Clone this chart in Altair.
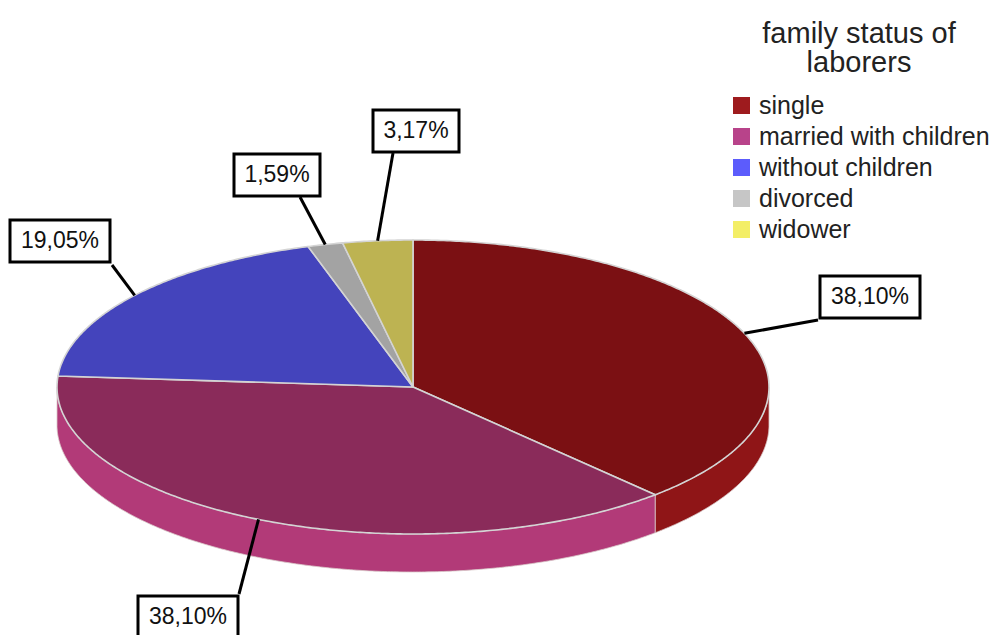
import math
import altair as alt

# ---------------- data ----------------
categories = ["single", "married with children", "without children", "divorced", "widower"]
percents = [38.10, 38.10, 19.05, 1.59, 3.17]
legend_title = ["family status of", "laborers"]

# ---------------- styles ----------------
legend_colors = ["#9E1B1E", "#B8438A", "#5C5CFC", "#C6C6C6", "#F3EE66"]
top_colors = ["#7B1013", "#8A2B5A", "#4444BC", "#A3A3A3", "#BDB352"]
side_colors = ["#8F1517", "#B23A78", "#3C3CA8", "#909090", "#A89E45"]
FONT = "Liberation Sans"

# ---------------- layout (pixels) ----------------
CX, CY = 413, 387          # pie centre
RX, RY, DEPTH = 356, 147, 38
# label box centre and leader end, as pixel offsets from the pie centre
label_center = [(457, -90), (-225, 230), (-353, -146), (-136, -212), (3, -256)]
leader_end = [(405, -67), (-174, 207), (-301, -122), (-113, -190), (-20, -234)]
BOX_H = 42

K = RY / RX
D = DEPTH / RX


def ell(t, dy=0.0):
    return [math.sin(t), -K * math.cos(t) + dy]


def arc_pts(t0, t1, dy=0.0, step=math.radians(0.5)):
    pts = []
    n = max(2, int(math.ceil((t1 - t0) / step)) + 1)
    for i in range(n):
        t = t0 + (t1 - t0) * i / (n - 1)
        pts.append(ell(t, dy))
    return pts


total = sum(percents)
bounds = []
acc = 0.0
for p in percents:
    t0 = acc / total * 2 * math.pi
    acc += p
    t1 = acc / total * 2 * math.pi
    bounds.append((t0, t1))

labels = [f"{p:.2f}%".replace(".", ",") for p in percents]

top_features, side_features, leader_features, box_features, text_rows = [], [], [], [], []
for i, (cat, (t0, t1)) in enumerate(zip(categories, bounds)):
    ring = [[0.0, 0.0]] + arc_pts(t0, t1) + [[0.0, 0.0]]
    top_features.append({"type": "Feature", "properties": {"status": cat},
                         "geometry": {"type": "Polygon", "coordinates": [ring]}})
    a, b = max(t0, math.pi / 2), min(t1, 3 * math.pi / 2)
    if b > a:
        side = arc_pts(a, b) + arc_pts(a, b, D)[::-1]
        side.append(side[0])
        side_features.append({"type": "Feature", "properties": {"status": cat},
                              "geometry": {"type": "Polygon", "coordinates": [side]}})
    tm = (t0 + t1) / 2
    start = ell(tm)
    ex, ey = leader_end[i]
    leader_features.append({"type": "Feature", "properties": {"status": cat},
                            "geometry": {"type": "LineString",
                                         "coordinates": [start, [ex / RX, ey / RX]]}})
    cx, cy = label_center[i]
    hw = (16 + 14 * len(labels[i])) / 2
    hh = BOX_H / 2
    rect = [[(cx - hw) / RX, (cy - hh) / RX], [(cx + hw) / RX, (cy - hh) / RX],
            [(cx + hw) / RX, (cy + hh) / RX], [(cx - hw) / RX, (cy + hh) / RX],
            [(cx - hw) / RX, (cy - hh) / RX]]
    box_features.append({"type": "Feature", "properties": {"status": cat},
                         "geometry": {"type": "Polygon", "coordinates": [rect]}})
    text_rows.append({"lon": cx / RX, "lat": cy / RX, "label": labels[i]})

sides = alt.Chart(alt.Data(values=side_features)).mark_geoshape(
    stroke="#d8c8c8", strokeWidth=0.8
).encode(
    fill=alt.Fill("properties.status:N", scale=alt.Scale(domain=categories, range=side_colors), legend=None)
)

tops = alt.Chart(alt.Data(values=top_features)).mark_geoshape(
    stroke="#d4d4d4", strokeWidth=1.6
).encode(
    fill=alt.Fill("properties.status:N", scale=alt.Scale(domain=categories, range=top_colors), legend=None)
)

leaders = alt.Chart(alt.Data(values=leader_features)).mark_geoshape(
    filled=False, stroke="black", strokeWidth=3
).encode(detail=alt.Detail("properties.status:N"))

boxes = alt.Chart(alt.Data(values=box_features)).mark_geoshape(
    fill="white", stroke="black", strokeWidth=3
).encode(detail=alt.Detail("properties.status:N"))

texts = alt.Chart(alt.Data(values=text_rows)).mark_text(
    font=FONT, fontSize=23, color="#111111", baseline="middle", align="center"
).encode(longitude="lon:Q", latitude="lat:Q", text="label:N")

legend_layer = alt.Chart(alt.Data(values=top_features)).mark_geoshape(opacity=0).encode(
    color=alt.Color(
        "properties.status:N",
        scale=alt.Scale(domain=categories, range=legend_colors),
        legend=alt.Legend(
            title=legend_title, orient="none", legendX=729, legendY=20,
            titleFont=FONT, titleFontSize=29, titleFontWeight="normal", titleColor="#222222",
            titleAnchor="middle", titleAlign="center", titleLineHeight=29, titlePadding=15,
            titleLimit=500,
            labelFont=FONT, labelFontSize=25, labelColor="#222222", labelLimit=400, labelOffset=5,
            symbolType="square", symbolSize=289, symbolOpacity=1, symbolStrokeWidth=0,
            rowPadding=5, padding=0,
        ),
    )
)

chart = alt.layer(sides, tops, leaders, boxes, texts, legend_layer).project(
    type="identity", scale=RX, translate=[CX, CY]
).resolve_scale(fill="independent", color="independent").properties(
    width=995, height=635, padding=0, autosize="none", background="white"
).configure_view(stroke=None)

chart.save("out.html", embed_options={"renderer": "svg", "actions": False})
